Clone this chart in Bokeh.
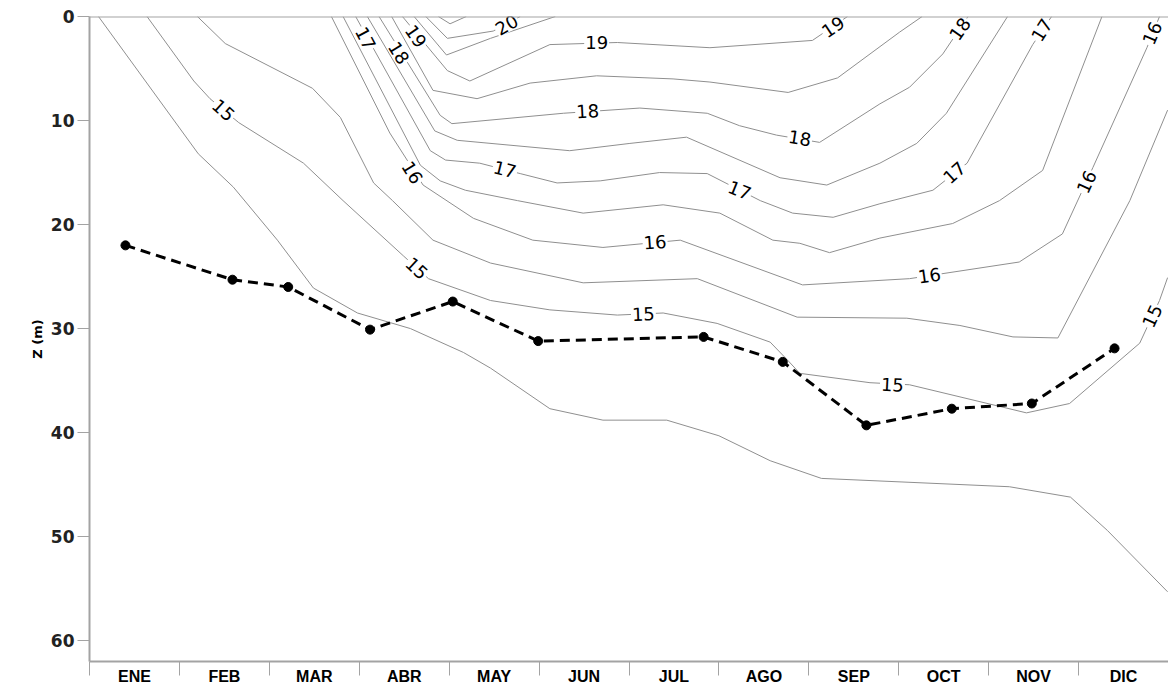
import numpy as np
from bokeh.plotting import figure
from bokeh.models import FixedTicker, Range1d, Span, Title
from bokeh.embed import file_html
from bokeh.resources import INLINE
from bokeh.core.properties import value

# ---- axes data ----
months = ["ENE", "FEB", "MAR", "ABR", "MAY", "JUN", "JUL", "AGO", "SEP", "OCT", "NOV", "DIC"]
month_pos = [1, 2, 3, 4, 5, 6, 7, 8, 9, 10, 11, 12]
month_edges = [0.5, 1.5, 2.5, 3.5, 4.5, 5.5, 6.5, 7.5, 8.5, 9.5, 10.5, 11.5, 12.5]
depth_ticks = [0, 10, 20, 30, 40, 50, 60]
y_title = "Z (m)"

# ---- isotherms (x in month units, z = depth in m) ----
iso_145_x = [0.60, 1.71, 2.10, 2.59, 2.99, 3.48, 4.07, 4.66, 4.96, 5.62, 6.21, 6.92, 7.50, 8.07, 8.64, 10.73, 11.41, 11.82, 12.49]
iso_145_z = [0, 13.2, 16.4, 21.5, 26.1, 28.5, 30.0, 32.3, 33.8, 37.7, 38.8, 38.8, 40.3, 42.7, 44.4, 45.2, 46.2, 49.4, 55.3]

iso_150_x = [1.14, 1.66, 1.84, 2.16, 2.88, 3.32, 3.99, 4.27, 4.96, 5.62, 6.37, 6.88, 7.48, 8.07, 8.26, 8.40, 9.18, 9.62, 10.92, 11.40, 12.18, 12.40, 12.49]
iso_150_z = [0, 6.2, 7.9, 10.2, 14.1, 17.7, 23.0, 25.2, 27.3, 28.2, 28.7, 28.5, 29.5, 31.3, 33.0, 34.3, 35.2, 35.4, 38.1, 37.2, 31.4, 27.3, 25.1]

iso_155_x = [1.70, 2.01, 2.98, 3.29, 3.66, 3.87, 4.32, 4.96, 5.99, 7.26, 8.37, 9.59, 10.18, 10.77, 11.27, 12.07, 12.49]
iso_155_z = [0, 2.6, 6.9, 9.7, 16.0, 17.7, 21.5, 23.7, 25.6, 25.2, 28.9, 29.0, 29.7, 30.8, 30.9, 17.7, 9.0]

iso_160_x = [3.19, 3.84, 4.21, 4.77, 5.43, 6.21, 7.07, 8.43, 9.62, 10.84, 11.32, 11.66, 12.26, 12.40]
iso_160_z = [0, 11.2, 16.2, 19.4, 21.5, 22.2, 21.5, 25.8, 25.2, 23.6, 20.9, 14.5, 3.0, 0]

iso_165_x = [3.32, 4.18, 4.40, 4.68, 5.26, 5.99, 6.88, 7.51, 8.10, 8.40, 8.73, 9.29, 10.10, 10.62, 11.10, 11.76]
iso_165_z = [0, 14.3, 15.8, 16.7, 17.7, 18.9, 18.1, 18.9, 21.5, 21.8, 22.7, 21.3, 19.9, 17.7, 14.8, 0]

iso_170_x = [3.46, 4.29, 4.46, 4.84, 5.29, 5.70, 6.18, 6.84, 7.37, 7.96, 8.32, 8.77, 9.29, 9.88, 10.26, 10.99, 11.20]
iso_170_z = [0, 12.9, 13.8, 14.1, 15.1, 16.0, 15.8, 15.0, 15.1, 17.7, 18.9, 19.3, 18.0, 16.7, 14.1, 2.7, 0]

iso_175_x = [3.59, 4.34, 4.59, 5.84, 6.51, 7.14, 8.18, 8.70, 9.29, 9.70, 10.03, 10.71]
iso_175_z = [0, 11.0, 11.9, 12.9, 12.2, 11.6, 15.5, 16.2, 14.1, 12.2, 9.3, 0]

iso_180_x = [3.72, 4.40, 4.53, 5.77, 6.62, 7.37, 7.73, 8.14, 8.62, 9.29, 9.62, 9.99, 10.27]
iso_180_z = [0, 9.5, 10.3, 9.3, 8.8, 9.3, 10.5, 11.4, 12.1, 8.4, 6.8, 3.6, 0]

iso_185_x = [3.86, 4.32, 4.81, 5.40, 6.14, 6.99, 7.40, 8.27, 8.82, 9.51, 9.76]
iso_185_z = [0, 7.1, 7.9, 6.4, 5.7, 6.0, 6.3, 7.3, 5.9, 1.5, 0]

iso_190_x = [3.98, 4.48, 4.73, 5.62, 6.37, 7.40, 8.54, 8.93]
iso_190_z = [0, 5.2, 6.2, 2.7, 2.5, 3.0, 2.3, 0]

iso_195_x = [4.11, 4.47, 4.96, 5.68]
iso_195_z = [0, 3.7, 2.1, 0]

iso_200_x = [4.24, 4.48, 4.99, 5.29]
iso_200_z = [0, 2.1, 1.4, 0]

iso_205_x = [4.38, 4.51, 4.69]
iso_205_z = [0, 0.7, 0]

# ---- contour labels ----
label_text = ["15", "16", "15", "17", "18", "19", "20", "19", "18", "17", "16", "15",
              "19", "18", "17", "18", "17", "16", "17", "16", "16", "15", "15"]
label_x = [1.99, 4.09, 4.14, 3.57, 3.94, 4.13, 5.14, 6.14, 6.04, 5.12, 6.79, 6.66,
           8.77, 8.40, 7.73, 10.18, 11.09, 12.32, 10.12, 11.59, 9.84, 9.43, 12.32]
label_z = [9.0, 15.0, 24.2, 2.1, 3.5, 1.9, 0.8, 2.5, 9.1, 14.7, 21.7, 28.6,
           1.0, 11.7, 16.7, 1.2, 1.3, 1.6, 15.0, 15.9, 24.9, 35.4, 28.8]
label_angle = [-42, -58, -43, -62, -58, -55, 30, 0, 3, -14, 4, 2,
               34, -9, -22, 55, 58, 67, 42, 65, 8, -3, 65]

# ---- dashed series (depth per sampling date) ----
mld_x = [0.90, 2.09, 2.71, 3.62, 4.54, 5.49, 7.33, 8.21, 9.14, 10.09, 10.98, 11.90]
mld_z = [22.0, 25.3, 26.0, 30.1, 27.4, 31.2, 30.8, 33.2, 39.3, 37.7, 37.2, 31.9]

GRAY = "#a3a3a3"

p = figure(width=1168, height=687, x_range=Range1d(0.5, 12.5), y_range=Range1d(62, 0),
           output_backend="svg", toolbar_location=None,
           min_border_left=89, min_border_right=0, min_border_top=16, min_border_bottom=26)
p.grid.visible = False
p.outline_line_color = None
p.background_fill_color = "white"

iso_xs = [iso_145_x, iso_150_x, iso_155_x, iso_160_x, iso_165_x, iso_170_x, iso_175_x,
          iso_180_x, iso_185_x, iso_190_x, iso_195_x, iso_200_x, iso_205_x]
iso_zs = [iso_145_z, iso_150_z, iso_155_z, iso_160_z, iso_165_z, iso_170_z, iso_175_z,
          iso_180_z, iso_185_z, iso_190_z, iso_195_z, iso_200_z, iso_205_z]
p.multi_line(xs=iso_xs, ys=iso_zs, line_color="#8f8f8f", line_width=1)

p.text(x=label_x, y=label_z, text=label_text, angle=list(np.deg2rad(label_angle)),
       text_align="center", text_baseline="middle", text_color="black",
       text_font=value("DejaVu Sans"), text_font_size="18px",
       background_fill_color="white", padding=1)

p.line(mld_x, mld_z, line_color="black", line_width=3, line_dash="10 6")
p.scatter(mld_x, mld_z, size=9, color="black")

p.add_layout(Span(location=0, dimension="width", line_color=GRAY, line_width=2))

xa = p.xaxis[0]
xa.ticker = FixedTicker(ticks=month_pos, minor_ticks=month_edges)
xa.major_label_overrides = {m: lab for m, lab in zip(month_pos, months)}
xa.major_tick_line_color = None
xa.major_tick_out = 0
xa.major_tick_in = 0
xa.minor_tick_out = 14
xa.minor_tick_in = 0
xa.minor_tick_line_color = GRAY
xa.minor_tick_line_width = 1
xa.axis_line_color = GRAY
xa.axis_line_width = 2
xa.major_label_standoff = -8
xa.major_label_text_font = "Liberation Sans"
xa.major_label_text_font_style = "bold"
xa.major_label_text_font_size = "16px"
xa.major_label_text_color = "black"

ya = p.yaxis[0]
ya.ticker = FixedTicker(ticks=depth_ticks, minor_ticks=[])
ya.major_tick_out = 12
ya.major_tick_in = 0
ya.major_tick_line_color = GRAY
ya.axis_line_color = GRAY
ya.axis_line_width = 2
ya.major_label_standoff = 3
ya.major_label_text_font = "DejaVu Sans"
ya.major_label_text_font_style = "bold"
ya.major_label_text_font_size = "17px"
ya.major_label_text_color = "#222222"

# y-axis title
p.add_layout(Title(text=y_title, align="center", standoff=6,
                   text_font="DejaVu Sans", text_font_style="bold",
                   text_font_size="13px", text_color="black"), "left")

open("out.html", "w").write(file_html(p, INLINE))
